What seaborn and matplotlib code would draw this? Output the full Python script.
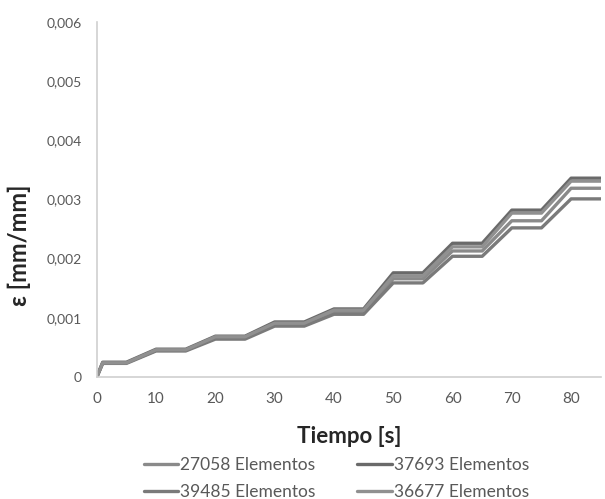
import pandas as pd
import matplotlib.pyplot as plt
import seaborn as sns

tiempo = [0, 1, 5, 10, 15, 20, 25, 30, 35, 40, 45, 50, 55, 60, 65, 70, 75, 80, 85]

e_27058 = [0, 0.00024, 0.00024, 0.00045, 0.00045, 0.00066, 0.00066, 0.00089, 0.00089,
           0.00110, 0.00110, 0.00166, 0.00166, 0.00213, 0.00213, 0.00264, 0.00264, 0.00319, 0.00319]
e_37693 = [0, 0.00025, 0.00025, 0.00047, 0.00047, 0.00069, 0.00069, 0.00093, 0.00093,
           0.00115, 0.00115, 0.00176, 0.00176, 0.00226, 0.00226, 0.00282, 0.00282, 0.00336, 0.00336]
e_39485 = [0, 0.00023, 0.00023, 0.00044, 0.00044, 0.00064, 0.00064, 0.00086, 0.00086,
           0.00106, 0.00106, 0.00159, 0.00159, 0.00204, 0.00204, 0.00252, 0.00252, 0.00301, 0.00301]
e_36677 = [0, 0.00024, 0.00024, 0.00046, 0.00046, 0.00068, 0.00068, 0.00091, 0.00091,
           0.00113, 0.00113, 0.00171, 0.00171, 0.00220, 0.00220, 0.00277, 0.00277, 0.00331, 0.00331]

series = {
    '27058 Elementos': e_27058,
    '39485 Elementos': e_39485,
    '37693 Elementos': e_37693,
    '36677 Elementos': e_36677,
}
colores = ['#8a8a8a', '#7a7a7a', '#6a6a6a', '#909090']

def main():
    filas = []
    for nombre, vals in series.items():
        for t, v in zip(tiempo, vals):
            filas.append({'Tiempo': t, 'def': v, 'Malla': nombre})
    df = pd.DataFrame(filas)

    sns.set_style('white')
    plt.rcParams['font.family'] = ['Lato', 'DejaVu Sans']

    fig = plt.figure(figsize=(6.05, 4.99), dpi=100)
    ax = fig.add_axes([0.160, 0.2445, 0.833, 0.7115])

    sns.lineplot(data=df, x='Tiempo', y='def', hue='Malla', palette=colores,
                 linewidth=2.4, ax=ax, legend=True)

    ax.set_xlim(0, 85)
    ax.set_ylim(0, 0.006)
    ax.set_xticks(range(0, 81, 10))
    ax.set_yticks([0, 0.001, 0.002, 0.003, 0.004, 0.005, 0.006])
    ax.set_yticklabels(['0', '0,001', '0,002', '0,003', '0,004', '0,005', '0,006'])
    ax.tick_params(axis='both', length=0, colors='#595959')
    ax.tick_params(axis='x', labelsize=11, pad=11)
    ax.tick_params(axis='y', labelsize=10, pad=11)

    for lado in ['top', 'right']:
        ax.spines[lado].set_visible(False)
    for lado in ['left', 'bottom']:
        ax.spines[lado].set_color('#d0d0d0')
        ax.spines[lado].set_linewidth(1.2)

    ax.set_xlabel('Tiempo [s]', fontsize=16, fontweight='bold', labelpad=14)
    ax.set_ylabel('ε [mm/mm]', fontsize=17, fontweight='bold')
    ax.yaxis.set_label_coords(-0.13, 0.372)

    handles, labels = ax.get_legend_handles_labels()
    ax.legend(handles, labels, loc='upper center', bbox_to_anchor=(0.475, -0.19),
              ncol=2, frameon=False, fontsize=12.5, labelcolor='#595959',
              handlelength=2.0, handletextpad=0.1, columnspacing=2.4,
              labelspacing=0.66, borderpad=0.2)

    fig.savefig('out.png', dpi=100)
    plt.close(fig)

if __name__ == "__main__":
    main()
